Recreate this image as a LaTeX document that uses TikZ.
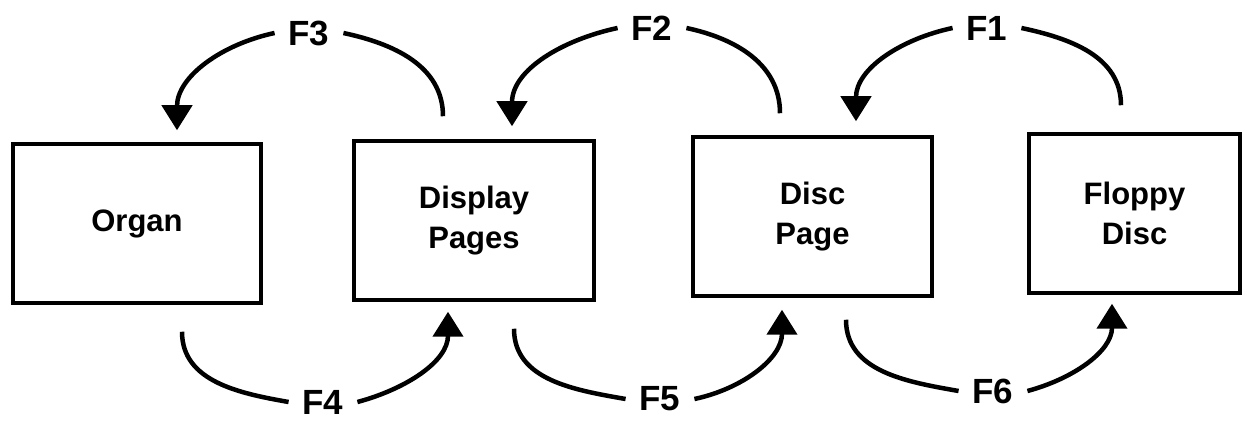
\documentclass[tikz,border=0pt]{standalone}
\usepackage{fontspec}
\setmainfont{Liberation Sans}
\usetikzlibrary{arrows.meta}
\begin{document}
\begin{tikzpicture}[x=1pt,y=1pt,
	box/.style={draw, line width=3.5pt, minimum height=159pt, align=center,
		font=\bfseries\fontsize{31}{40}\selectfont},
	fkey/.style={font=\bfseries\fontsize{35}{38}\selectfont, inner sep=2pt, outer sep=12pt},
	arc/.style={line width=4.5pt},
	flow/.style={line width=4.5pt, -{Triangle[length=25pt,width=30pt]}}]
\useasboundingbox (0,0) rectangle (1243,423);
% the four boxes
\node[box, minimum width=248pt] (organ) at (137,199.5) {Organ};
\node[box, minimum width=240pt] (display) at (474,202.5) {Display\\Pages};
\node[box, minimum width=239pt] (disc) at (812.5,206.5) {Disc\\Page};
\node[box, minimum width=211pt] (floppy) at (1134.5,209.5) {Floppy\\Disc};
% function keys
\node[fkey] (f3) at (309,390) {F3};
\node[fkey] (f2) at (652,395) {F2};
\node[fkey] (f1) at (987,395) {F1};
\node[fkey] (f4) at (323,21) {F4};
\node[fkey] (f5) at (660,24) {F5};
\node[fkey] (f6) at (993,32) {F6};
% upper arcs
\draw[arc] ([xshift=-31pt,yshift=23pt]display.north) to[out=90,in=-12] (f3.east);
\draw[flow] (f3.west) to[out=192,in=90] ([xshift=40pt,yshift=12pt]organ.north);
\draw[arc] ([xshift=-32.5pt,yshift=22pt]disc.north) to[out=90,in=-12] (f2.east);
\draw[flow] (f2.west) to[out=192,in=90] ([xshift=38pt,yshift=13pt]display.north);
\draw[arc] ([xshift=-13.5pt,yshift=27pt]floppy.north) to[out=90,in=-12] (f1.east);
\draw[flow] (f1.west) to[out=192,in=90] ([xshift=43.5pt,yshift=14pt]disc.north);
% lower arcs
\draw[arc] ([xshift=45pt,yshift=-27pt]organ.south) to[out=-90,in=170] (f4.west);
\draw[flow] (f4.east) to[out=15,in=-90] ([xshift=-26pt,yshift=-10pt]display.south);
\draw[arc] ([xshift=40pt,yshift=-27pt]display.south) to[out=-90,in=170] (f5.west);
\draw[flow] (f5.east) to[out=12,in=-90] ([xshift=-30.5pt,yshift=-12pt]disc.south);
\draw[arc] ([xshift=33.5pt,yshift=-22pt]disc.south) to[out=-90,in=170] (f6.west);
\draw[flow] (f6.east) to[out=15,in=-90] ([xshift=-22.5pt,yshift=-9pt]floppy.south);
\end{tikzpicture}
\end{document}
